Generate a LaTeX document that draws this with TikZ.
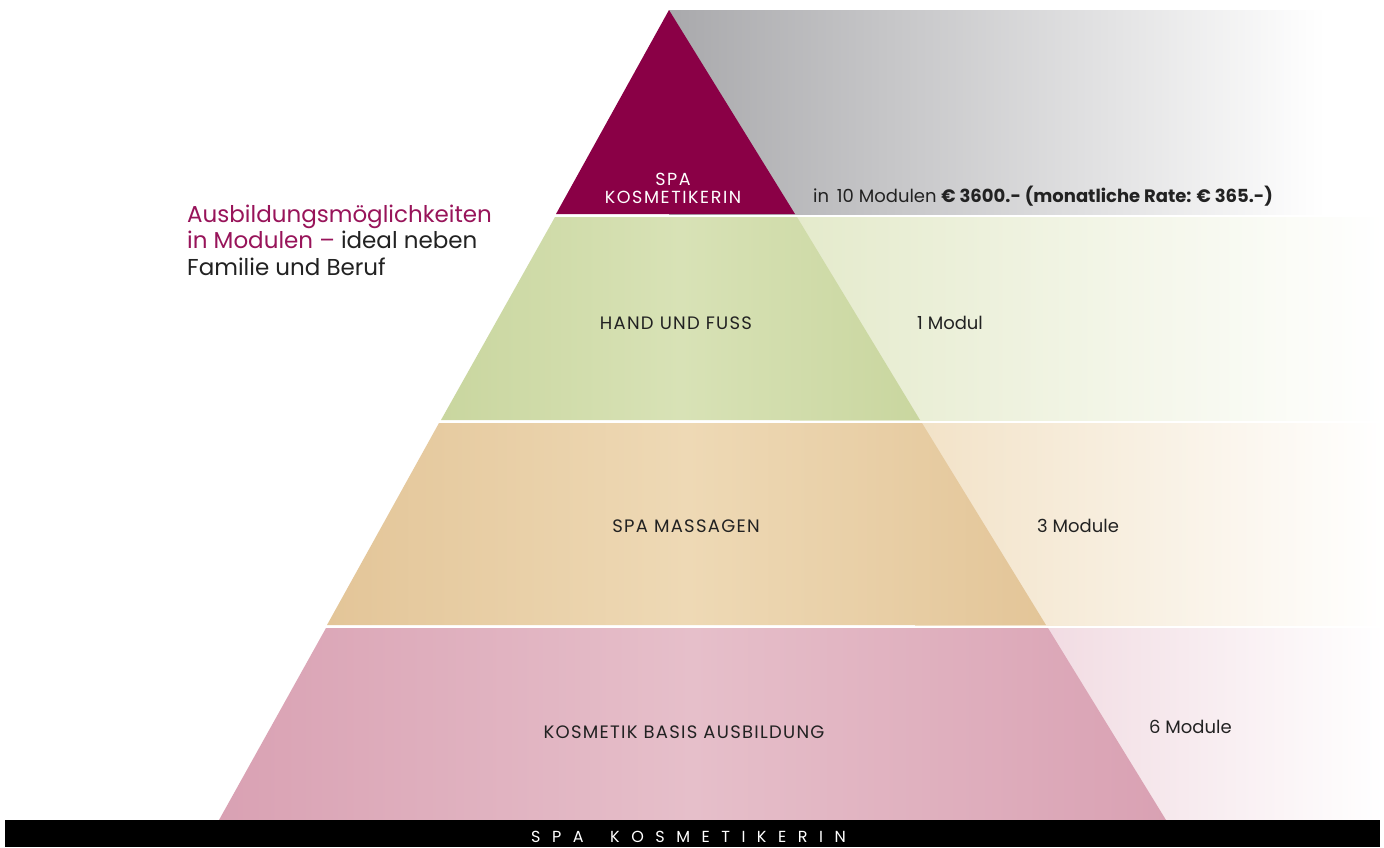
\documentclass[tikz,border=0pt]{standalone}
\usepackage{fontspec}
\setmainfont{Poppins}
\usetikzlibrary{calc}
\definecolor{maroon}{HTML}{8A0046}
\definecolor{headred}{HTML}{98145A}
\definecolor{txt}{HTML}{222222}
\definecolor{greenL}{HTML}{C9D69F}
\definecolor{greenM}{HTML}{D8E2B6}
\definecolor{tanL}{HTML}{E3C598}
\definecolor{tanM}{HTML}{EED9B5}
\definecolor{pinkL}{HTML}{D9A1B3}
\definecolor{pinkM}{HTML}{E6BFCA}
\definecolor{bandgray}{HTML}{A9A9AC}
\definecolor{bandgreen}{HTML}{E4EACB}
\definecolor{bandtan}{HTML}{F2E2C7}
\definecolor{bandpink}{HTML}{F1DBE2}
\tikzset{
  lbl/.style={text=txt, font=\fontsize{18}{21}\selectfont, inner sep=0pt},
  caps/.style={text=txt, font=\fontsize{18}{21}\selectfont\addfontfeatures{LetterSpace=7}, inner sep=0pt},
  wlbl/.style={text=white, font=\fontsize{17.5}{19}\selectfont\addfontfeatures{LetterSpace=9}, inner sep=0pt, align=center},
  head/.style={text=txt, font=\fontsize{23}{26}\selectfont, inner sep=0pt, anchor=base west},
  bartext/.style={text=white, inner sep=0pt, anchor=base west, font=\fontsize{16}{18}\selectfont\addfontfeatures{LetterSpace=72}},
}
\begin{document}
\begin{tikzpicture}[x=1pt,y=-1pt]
\useasboundingbox (0,0) rectangle (1384,847);
\fill[white] (0,0) rectangle (1384,847);
% fading bands
\shade[left color=bandgray, right color=white] (669,10) rectangle (1325,214);
\shade[left color=bandgreen, right color=white] (790,217) rectangle (1384,420);
\shade[left color=bandtan, right color=white] (915,423) rectangle (1384,625);
\shade[left color=bandpink, right color=white] (1040,628) rectangle (1384,820);
% pyramid tiers
\fill[maroon] (669,10) -- (795,214) -- (556,214) -- cycle;
\shade[left color=greenL, right color=greenL, middle color=greenM]
  (555,217) -- (797,217) -- (920,420) -- (441,420) -- cycle;
\shade[left color=tanL, right color=tanL, middle color=tanM]
  (439,423) -- (922,423) -- (1046,625) -- (327,625) -- cycle;
\shade[left color=pinkL, right color=pinkL, middle color=pinkM]
  (326,628) -- (1048,628) -- (1166,820) -- (219,820) -- cycle;
% bottom bar
\fill[black] (5,820) rectangle (1380,847);
% labels
\node[wlbl] (t1) at (673,188) {SPA\\[-1pt]KOSMETIKERIN};
\node[lbl, anchor=west] (p1) at (813,196) {in \,10 Modulen \textbf{€ 3600.- (monatliche Rate: € 365.-)}};
\node[caps] (t2) at (676,323) {HAND UND FUSS};
\node[lbl, anchor=west] (p2) at (917,323) {1 Modul};
\node[caps] (t3) at (686,526) {SPA MASSAGEN};
\node[lbl, anchor=west] (p3) at (1037,526) {3 Module};
\node[caps] (t4) at (684,732) {KOSMETIK BASIS AUSBILDUNG};
\node[lbl, anchor=west] (p4) at (1149,727) {6 Module};
\node[head, text=headred] (h1) at (187,222) {Ausbildungsmöglichkeiten};
\node[head] (h2) at (187,248) {\textcolor{headred}{in Modulen –} ideal neben};
\node[head] (h3) at (187,275) {Familie und Beruf};
\node[bartext] (bar1) at (531,842) {SPA};
\node[bartext] (bar2) at (610,842) {KOSMETIKERIN};
\end{tikzpicture}
\end{document}
